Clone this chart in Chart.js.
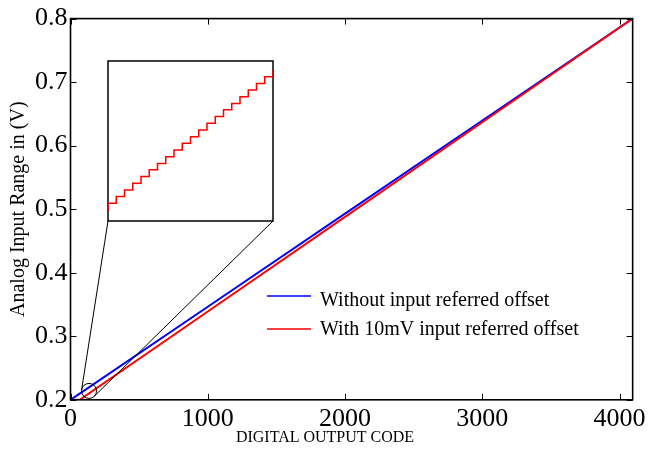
<!DOCTYPE html>
<html>
<head>
<meta charset="utf-8">
<script src="https://cdn.jsdelivr.net/npm/chart.js@4.4.1/dist/chart.umd.min.js"></script>
<style>
  html, body { margin: 0; padding: 0; background: #fff; }
  #wrap { position: relative; width: 650px; height: 452px; }
  #inset { position: absolute; left: 108px; top: 61px; }
</style>
</head>
<body>
<div id="wrap">
  <canvas id="main" width="650" height="452"></canvas>
  <canvas id="inset" width="165" height="160"></canvas>
</div>
<script>
// Transfer curve of the 12-bit converter: output code vs. analog input
const codes = [0, 67, 1000, 2000, 3000, 4095];
const withoutOffset = [0.2, 0.2098, 0.3465, 0.4930, 0.6396, 0.8];
const withOffset = [0.2, 0.2, 0.3390, 0.4879, 0.6369, 0.8];

// axis tick values
const codeTicks = [0, 1000, 2000, 3000, 4000];
const voltTicks = [0.2, 0.3, 0.4, 0.5, 0.6, 0.7, 0.8];

// Magnified region: individual code steps near the bottom of the range
const insetCodes = [124, 125, 126, 127, 128, 129, 130, 131, 132, 133, 134,
                    135, 136, 137, 138, 139, 140, 141, 142, 143, 144, 145];
const insetVolts = [0.20847, 0.20862, 0.20877, 0.20892, 0.20907, 0.20922,
                    0.20937, 0.20951, 0.20966, 0.20981, 0.20996, 0.21011,
                    0.21026, 0.21041, 0.21056, 0.21071, 0.21085, 0.21100,
                    0.21115, 0.21130, 0.21145, 0.21160];
const insetCodeRange = [125, 145];
const insetVoltRange = [0.208225, 0.2118];
const zoomCenter = [135, 0.2140];

const seriesLabels = ['Without input referred offset', 'With 10mV input referred offset'];
const xTitle = 'DIGITAL OUTPUT CODE';
const yTitle = 'Analog Input Range in (V)';

const FONT = "'Liberation Serif', 'Times New Roman', serif";
Chart.defaults.font.family = FONT;
Chart.defaults.color = '#000';

const insetBox = { left: 108, top: 61, width: 165, height: 160 };

function toPoints(xs, ys) { return xs.map((v, i) => ({ x: v, y: ys[i] })); }

// tangent point on a circle seen from an outside point
function tangent(px, py, cx, cy, r, sign) {
  const dx = px - cx, dy = py - cy;
  const d = Math.hypot(dx, dy);
  const a = Math.atan2(dy, dx);
  const b = Math.acos(r / d);
  const t = a + sign * b;
  return [cx + r * Math.cos(t), cy + r * Math.sin(t)];
}

const framePlugin = {
  id: 'frame',
  afterDraw(chart) {
    const { ctx, chartArea: a, scales } = chart;
    const x = scales.x, y = scales.y;
    ctx.save();
    // axes box
    ctx.strokeStyle = '#000';
    ctx.lineWidth = 1.6;
    ctx.strokeRect(a.left, a.top, a.right - a.left, a.bottom - a.top);
    // inward tick marks on all four sides
    ctx.lineWidth = 1;
    ctx.beginPath();
    x.ticks.forEach(t => {
      const p = Math.round(x.getPixelForValue(t.value)) + 0.5;
      ctx.moveTo(p, a.bottom); ctx.lineTo(p, a.bottom - 6);
      ctx.moveTo(p, a.top); ctx.lineTo(p, a.top + 6);
    });
    y.ticks.forEach(t => {
      const p = Math.round(y.getPixelForValue(t.value)) + 0.5;
      ctx.moveTo(a.left, p); ctx.lineTo(a.left + 6, p);
      ctx.moveTo(a.right, p); ctx.lineTo(a.right - 6, p);
    });
    ctx.stroke();

    // circle around the magnified region
    const cx = x.getPixelForValue(zoomCenter[0]);
    const cy = y.getPixelForValue(zoomCenter[1]);
    const r = 7.5;
    ctx.lineWidth = 1;
    ctx.beginPath();
    ctx.arc(cx, cy, r, 0, Math.PI * 2);
    ctx.stroke();

    // connectors from the circle to the magnified view
    const bl = [insetBox.left, insetBox.top + insetBox.height];
    const br = [insetBox.left + insetBox.width, insetBox.top + insetBox.height];
    const t1 = tangent(bl[0], bl[1], cx, cy, r, -1);
    const t2 = tangent(br[0], br[1], cx, cy, r, 1);
    ctx.beginPath();
    ctx.moveTo(bl[0], bl[1]); ctx.lineTo(t1[0], t1[1]);
    ctx.moveTo(br[0], br[1]); ctx.lineTo(t2[0], t2[1]);
    ctx.stroke();

    // frame of the magnified view
    ctx.lineWidth = 1.5;
    ctx.strokeRect(insetBox.left, insetBox.top, insetBox.width, insetBox.height);

    // legend
    const items = [
      { ds: chart.data.datasets[0], ly: 296, ty: 306 },
      { ds: chart.data.datasets[1], ly: 329, ty: 335 }
    ];
    ctx.font = '20px ' + FONT;
    ctx.textBaseline = 'alphabetic';
    ctx.textAlign = 'left';
    items.forEach(it => {
      ctx.strokeStyle = it.ds.borderColor;
      ctx.lineWidth = 1.5;
      ctx.beginPath();
      ctx.moveTo(267, it.ly); ctx.lineTo(311, it.ly);
      ctx.stroke();
      ctx.fillStyle = '#000';
      ctx.fillText(it.ds.label, 320, it.ty);
    });
    ctx.restore();
  }
};

new Chart(document.getElementById('main'), {
  type: 'line',
  data: {
    datasets: [
      {
        label: seriesLabels[0],
        data: toPoints(codes, withoutOffset),
        borderColor: '#0000ff',
        borderWidth: 2,
        pointRadius: 0,
        order: 1
      },
      {
        label: seriesLabels[1],
        data: toPoints(codes, withOffset),
        borderColor: '#ff0000',
        borderWidth: 2,
        pointRadius: 0,
        order: 0
      }
    ]
  },
  options: {
    responsive: false,
    animation: false,
    layout: { padding: { top: 18, right: 0, bottom: 0, left: 0 } },
    plugins: {
      legend: { display: false },
      tooltip: { enabled: false },
      title: {
        display: true,
        position: 'bottom',
        text: xTitle,
        color: '#000',
        font: { family: FONT, size: 16, weight: 'normal' },
        padding: { top: 0, bottom: 5 }
      }
    },
    scales: {
      x: {
        type: 'linear',
        min: 0,
        max: 4095,
        afterBuildTicks(s) { s.ticks = codeTicks.map(v => ({ value: v })); },
        ticks: {
          maxRotation: 0,
          autoSkip: false,
          padding: 4,
          color: '#000',
          font: { family: FONT, size: 26 },
          callback: v => String(v)
        },
        grid: { display: false, drawTicks: false },
        border: { display: false },
        afterFit(s) { s.height = 28; }
      },
      y: {
        type: 'linear',
        min: 0.2,
        max: 0.8,
        afterBuildTicks(s) { s.ticks = voltTicks.map(v => ({ value: v })); },
        ticks: {
          padding: 3,
          autoSkip: false,
          color: '#000',
          font: { family: FONT, size: 26 },
          callback: v => Number(v).toFixed(1)
        },
        grid: { display: false, drawTicks: false },
        border: { display: false },
        title: {
          display: true,
          text: yTitle,
          color: '#000',
          font: { family: FONT, size: 20 },
          padding: { top: 7, bottom: 0 }
        },
        afterFit(s) { s.width = 70.5; }
      },
      yr: {
        position: 'right',
        display: true,
        ticks: { display: false },
        grid: { display: false, drawTicks: false },
        border: { display: false },
        afterFit(s) { s.width = 16.5; }
      }
    }
  },
  plugins: [framePlugin]
});

// magnified staircase of the offset curve
new Chart(document.getElementById('inset'), {
  type: 'line',
  data: {
    datasets: [{
      data: toPoints(insetCodes, insetVolts),
      borderColor: '#ff0000',
      borderWidth: 1.5,
      pointRadius: 0,
      stepped: 'before',
      clip: 0
    }]
  },
  options: {
    responsive: false,
    animation: false,
    layout: { padding: 0 },
    plugins: { legend: { display: false }, tooltip: { enabled: false } },
    scales: {
      x: { type: 'linear', min: insetCodeRange[0], max: insetCodeRange[1], display: false },
      y: { type: 'linear', min: insetVoltRange[0], max: insetVoltRange[1], display: false }
    }
  }
});
</script>
</body>
</html>
